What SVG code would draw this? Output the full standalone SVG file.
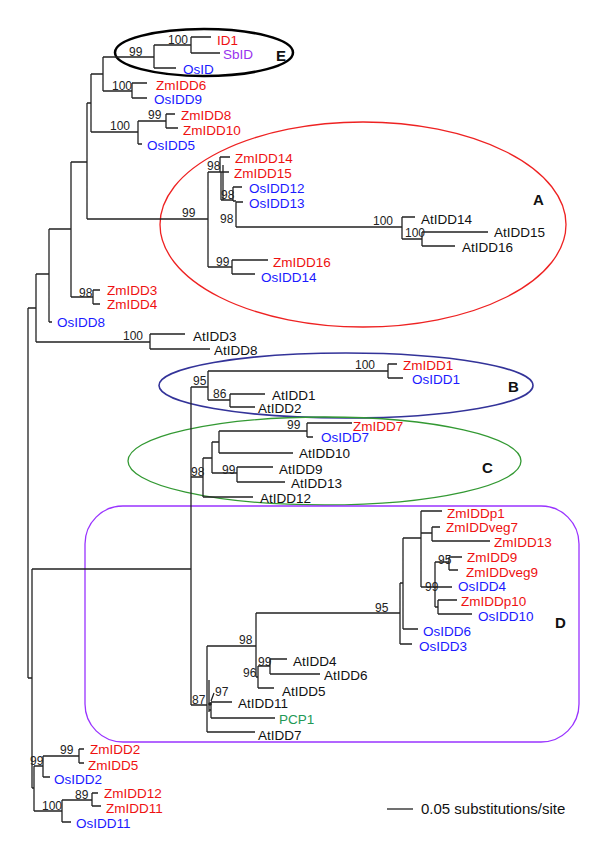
<svg xmlns="http://www.w3.org/2000/svg" width="600" height="850" viewBox="0 0 600 850">
<style>
.t{font-family:"Liberation Sans",Arial,sans-serif;font-size:13.5px}
.b{font-family:"Liberation Sans",Arial,sans-serif;font-size:12px;fill:#222}
.g{font-family:"Liberation Sans",Arial,sans-serif;font-size:15px;font-weight:bold;fill:#111}
.zm{fill:#ee1111}.os{fill:#1a1aff}.at{fill:#111}.sb{fill:#9933ee}.pc{fill:#229955}
.e{fill:none}
</style>
<rect width="600" height="850" fill="#fff"/>
<g id="groups">
<ellipse id="E" class="e" cx="204" cy="52.5" rx="89" ry="23.5" stroke="#000" stroke-width="2.5"/>
<ellipse id="A" class="e" cx="363" cy="224.5" rx="203" ry="102.5" stroke="#ee2222" stroke-width="1.3"/>
<ellipse id="B" class="e" cx="346" cy="385.5" rx="187" ry="32.5" stroke="#333399" stroke-width="1.6"/>
<ellipse id="C" class="e" cx="324.5" cy="461" rx="196.5" ry="44" stroke="#339933" stroke-width="1.3"/>
<rect id="D" class="e" x="85" y="506" width="494" height="236" rx="38" stroke="#9933ff" stroke-width="1.3"/>
<text class="g" x="276" y="61">E</text>
<text class="g" x="533" y="205">A</text>
<text class="g" x="508" y="392">B</text>
<text class="g" x="482" y="473">C</text>
<text class="g" x="555" y="628">D</text>
</g>
<g id="connectors" fill="none" stroke="#222" stroke-width="1.3">
<path d="M191,37H211M191,53H220M191,37V53M154,45H191M154,68H176M154,45V68M103,57H154"/>
<path d="M132,83H147M132,98H147M132,83V98M103,91H132M103,57V91M91,74H103"/>
<path d="M166,114H175M166,128H178M166,114V128M138,121H166M138,144H142M138,121V144M91,132H138M91,74V132M87,103H91"/>
<path d="M87,103V219M87,219H208M208,172V267M208,172H220M220,157V172M220,157H230M220,172H229M221,172V200M223,165V200M221,200H233M233,187V201M233,187H242M233,201H236M236,202V227M236,202H243M236,227H402M402,217V239M402,217H415M402,239H422M422,232V246M422,232H488M422,246H455M208,267H232M232,260V274M232,260H268M232,274H255M71,162H87"/>
<path d="M93,290V304M93,290H100M93,304H100M71,297H93M71,162V297M49,229H71M49,322H52M49,229V322M36,274H49"/>
<path d="M150,334V349M150,334H185M150,349H210M36,342H150M36,274V342M28,308H36"/>
<path d="M28,308V678M28,678H32M32,569V788M32,569H191"/>
<path d="M191,387V705M191,387H208M208,371V400M208,371H388M388,364V378M388,364H397M388,378H403M208,400H230M230,394V407M230,394H265M230,407H255"/>
<path d="M191,477H203M203,458V497M203,497H253M203,458H212M212,442V473M212,442H219M219,431V453M219,431H307M307,423V437M307,423H352M307,437H313M219,453H293M212,473H237M237,467V482M237,467H273M237,482H285"/>
<path d="M191,705H207M207,646V732M209,680V712M207,646H256M256,613V677M256,613H400M400,583V644M400,644H412M400,583H403M403,538V629M403,629H418M403,538H421M421,511V587M421,511H442M421,533H432M432,527V541M432,527H440M432,541H490M421,587H435M435,562V607M435,562H449M449,557V570M449,557H462M449,570H458M435,587H452M435,607H438M438,600V614M438,600H457M438,614H472"/>
<path d="M256,677H258M258,666V688M258,666H270M270,659V674M270,659H287M270,674H320M258,688H274M209,710H211M211,702V718M211,702H232M211,718H275M207,732H255M211,701L214,693"/>
<path d="M32,788H34M34,766V811M34,766H43M43,756V777M43,756H79M79,749V763M79,749H84M79,763H84M43,777H50M34,811H62M62,800V822M62,800H92M92,793V806M92,793H98M92,806H101M62,822H71"/>
<path d="M387,809H413"/>
</g>
<circle cx="210" cy="704" r="1.8" fill="#222"/>
<g id="bootstrap" class="b">
<text x="168" y="44">100</text><text x="129" y="56">99</text><text x="112" y="90">100</text>
<text x="110" y="130">100</text><text x="148" y="119">99</text><text x="207" y="170">98</text>
<text x="182" y="217">99</text><text x="221" y="199">98</text><text x="220" y="223">98</text>
<text x="373" y="225">100</text><text x="405" y="237">100</text><text x="216" y="266">99</text>
<text x="79" y="297">98</text><text x="123" y="340">100</text><text x="355" y="369">100</text>
<text x="193" y="385">95</text><text x="213" y="398">86</text><text x="287" y="429">99</text>
<text x="222" y="474">99</text><text x="191" y="476">98</text><text x="375" y="612">95</text>
<text x="239" y="644">98</text><text x="258" y="666">99</text><text x="243" y="677">96</text>
<text x="438" y="564">95</text><text x="425" y="591">99</text><text x="192" y="704">87</text>
<text x="215" y="696">97</text><text x="60" y="754">99</text><text x="30" y="765">99</text>
<text x="75" y="799">89</text><text x="42" y="810">100</text>
</g>
<g id="leaves" class="t">
<text class="zm" x="217" y="45">ID1</text>
<text class="sb" x="223" y="59">SbID</text>
<text class="os" x="183" y="74">OsID</text>
<text class="zm" x="156" y="90">ZmIDD6</text>
<text class="os" x="154" y="104">OsIDD9</text>
<text class="zm" x="181" y="120">ZmIDD8</text>
<text class="zm" x="183" y="135">ZmIDD10</text>
<text class="os" x="147" y="150">OsIDD5</text>
<text class="zm" x="235" y="163">ZmIDD14</text>
<text class="zm" x="234" y="178">ZmIDD15</text>
<text class="os" x="249" y="193">OsIDD12</text>
<text class="os" x="249" y="208">OsIDD13</text>
<text class="at" x="421" y="224">AtIDD14</text>
<text class="at" x="494" y="237">AtIDD15</text>
<text class="at" x="462" y="252">AtIDD16</text>
<text class="zm" x="273" y="267">ZmIDD16</text>
<text class="os" x="261" y="282">OsIDD14</text>
<text class="zm" x="107" y="295">ZmIDD3</text>
<text class="zm" x="107" y="309">ZmIDD4</text>
<text class="os" x="57" y="327">OsIDD8</text>
<text class="at" x="193" y="341">AtIDD3</text>
<text class="at" x="214" y="355">AtIDD8</text>
<text class="zm" x="403" y="370">ZmIDD1</text>
<text class="os" x="412" y="384">OsIDD1</text>
<text class="at" x="272" y="400">AtIDD1</text>
<text class="at" x="258" y="413">AtIDD2</text>
<text class="zm" x="353" y="431">ZmIDD7</text>
<text class="os" x="321" y="442">OsIDD7</text>
<text class="at" x="299" y="458">AtIDD10</text>
<text class="at" x="279" y="474">AtIDD9</text>
<text class="at" x="291" y="488">AtIDD13</text>
<text class="at" x="260" y="503">AtIDD12</text>
<text class="zm" x="447" y="518">ZmIDDp1</text>
<text class="zm" x="446" y="532">ZmIDDveg7</text>
<text class="zm" x="494" y="547">ZmIDD13</text>
<text class="zm" x="467" y="562">ZmIDD9</text>
<text class="zm" x="466" y="577">ZmIDDveg9</text>
<text class="os" x="458" y="591">OsIDD4</text>
<text class="zm" x="461" y="606">ZmIDDp10</text>
<text class="os" x="478" y="621">OsIDD10</text>
<text class="os" x="423" y="636">OsIDD6</text>
<text class="os" x="419" y="651">OsIDD3</text>
<text class="at" x="293" y="666">AtIDD4</text>
<text class="at" x="324" y="680">AtIDD6</text>
<text class="at" x="282" y="696">AtIDD5</text>
<text class="at" x="238" y="708">AtIDD11</text>
<text class="pc" x="279" y="724">PCP1</text>
<text class="at" x="258" y="740">AtIDD7</text>
<text class="zm" x="90" y="754">ZmIDD2</text>
<text class="zm" x="88" y="770">ZmIDD5</text>
<text class="os" x="54" y="784">OsIDD2</text>
<text class="zm" x="104" y="798">ZmIDD12</text>
<text class="zm" x="106" y="813">ZmIDD11</text>
<text class="os" x="76" y="828">OsIDD11</text>
</g>
<text id="scale" class="at" x="421" y="814" font-family="Liberation Sans, Arial, sans-serif" font-size="15">0.05 substitutions/site</text>
</svg>
